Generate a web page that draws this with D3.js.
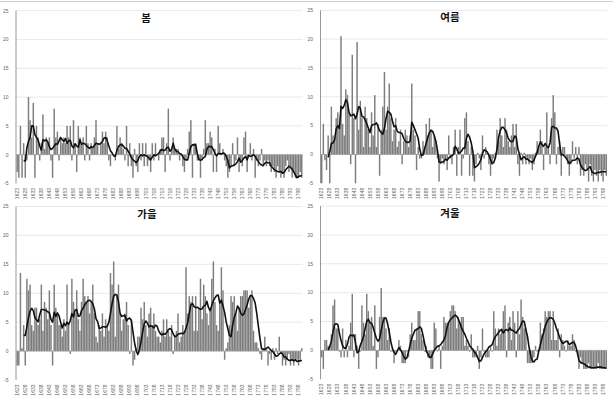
<!DOCTYPE html>
<html lang="ko">
<head>
<meta charset="UTF-8">
<title>계절별 편차</title>
<script src="https://d3js.org/d3.v7.min.js"></script>
<style>
    body { margin: 0; background: #fff; }
    svg { display: block; }
    .tick-label { font-family: "Liberation Sans", Arial, sans-serif; font-size: 5px; fill: #666; }
    .title { font-family: "Noto Sans CJK KR", sans-serif; font-size: 10.5px; font-weight: bold; fill: #111; }
</style>
</head>
<body>
<div id="chart"></div>
<script>
    // years on the category axis, 1623..1800
    const years = d3.range(1623, 1801);
    const yTicks = [-5, 0, 5, 10, 15, 20, 25];
    const lineStart = 1627; // first year of the smoothed line

    // 봄
    const springBars = [-3,-4,5,-4,2,-4,-1,10,6,3, 9,-4,5,3,-1,2,7,1,3,2, 3,-1,-4,8,3,4,-1,3,2,3,
        2,5,3,5,-1,6,2,-3,5,3, 2,3,-1,5,2,-1,2,1,3,6, 2,0,2,4,2,4,3,-1,-2,0, 0,-1,5,1,3,2,1,-1,5,-2,
        2,-2,-4,1,-2,-3,2,-1,2,-2, 2,-2,-1,-3,2,-1,2,0,-1,1, 3,3,-3,2,8,-1,1,3,1,1, 1,-1,0,-2,-3,-1,1,4,6,-4,
        2,2,-1,-1,-4,-1,1,6,2,2, 4,3,-3,1,-3,5,2,0,1,-1, -2,-4,-3,-2,2,-2,-1,3,-3,-1, -2,3,4,-3,0,2,-1,1,-4,-1,
        -2,-1,1,-2,-1,-2,-1,-2,-3,-2, -3,-4,-2,-3,-4,-3,-4,-2,-1,-3, -2,-4,-3,-4,-4,-4,-3,-4];
    const springLine = [-1.0,-1.1,1.2,2.3,3.0,5.0,5.0,3.5,3.0,2.5, 1.5,0.8,2.6,2.4,2.6,2.2,1.4,0.9,1.1,1.5,
        1.9,1.8,2.4,3.0,2.6,2.3,2.8,2.0,2.4,2.5, 1.5,1.2,1.9,1.5,1.3,2.6,1.8,2.0,1.9,1.6,
        1.3,1.1,1.4,1.2,1.6,2.0,1.9,1.8,2.0,2.3, 2.9,3.0,2.4,1.5,0.7,0.3,-0.2,-0.3,0.8,1.4,
        1.7,1.8,1.5,1.1,1.1,0.6,0.1,-0.5,-0.9,-1.1, -1.4,-1.0,-0.3,0.0,-0.2,0.0,-0.2,-0.3,-0.6,-0.9,
        -0.4,0.0,-0.2,0.0,0.2,0.7,0.9,0.7,0.8,1.2, 1.3,0.6,0.9,2.0,1.0,0.6,0.5,0.2,0.1,-0.3,
        -0.8,-0.9,-0.9,0.3,1.4,1.7,1.7,1.7,0.2,-0.8, -1.0,-0.8,-0.5,-0.3,1.0,1.4,1.4,1.4,0.9,0.2,
        -0.2,0.2,0.2,0.1,0.3,0.2,-0.3,-1.0,-2.3,-2.0, -1.9,-1.8,-1.6,-1.2,-0.6,-1.3,-1.0,-0.6,-0.3,-0.9,
        -0.1,-0.3,-0.2,0.0,-0.3,-0.8,-1.2,-1.6,-1.8,-1.9, -1.5,-1.3,-1.4,-1.4,-2.0,-2.3,-2.6,-2.8,-2.9,-3.0,
        -2.9,-3.2,-3.1,-2.6,-2.3,-2.0,-2.2,-2.5,-3.0,-3.5, -4.0,-3.8,-3.7,-3.6];

    // 여름
    const summerBars = [-5,5.3,-1,-2.7,3.3,-5,8.3,3.3,2.3,6.3, 7.3,5.3,20.5,5.3,3.3,11.3,10.3,7.3,-1.7,17.3,
        6.3,-5,19.5,4.3,9.3,6.3,1.3,8.3,6.3,4.3, 1.3,7.3,3.3,10.3,1.3,5.3,-3.7,4.3,8.3,14.3,
        4.3,8.3,12.3,6.3,2.3,4.3,6.3,1.3,2.3,4.3, -1.7,2.3,4.3,3.3,1.3,3.3,12.3,4.3,3.3,-2.7,
        1.3,-0.7,-0.7,2.3,1.3,5.3,3.3,6.3,4.3,1.3, 3.3,2.3,-0.7,-4.7,-1.7,-0.7,-1.7,-0.7,-2.7,3.3,
        -0.7,-1.7,1.3,4.3,-3.7,1.3,4.3,-3.7,-0.7,6.3, 7.3,2.3,-3.7,1.3,-3.7,-4.7,-1.7,0.3,-0.7,-2.7,
        3.3,-0.7,1.3,0.3,-1.7,-3.7,-1.7,-0.7,0.3,4.3, 2.3,6.3,3.3,1.3,6.3,4.3,2.3,1.3,3.3,5.3,
        1.3,5.3,-1.7,-3.7,0.3,-1.7,0.3,-1.7,-0.7,-1.7, -0.7,-2.7,-1.7,0.3,2.3,1.3,4.3,2.3,-2.7,1.3,
        7.3,1.3,-1.7,6.3,10.3,7.3,-1.7,1.3,2.3,-3.7, 1.3,1.3,-0.7,-1.7,-3.7,-1.7,2.3,-0.7,1.3,-1.7,
        1.3,-3.7,-2.7,-3.7,-1.7,-2.7,-4.7,-1.7,-3.7,-4.7, -2.7,-3.7,-4.7,-2.7,-3.7,-4.7,-2.7,-3.7];
    const summerLine = [-0.5,0.5,1.9,2.0,2.5,4.5,5.0,4.5,8.3,8.0, 8.5,9.5,9.0,7.3,6.7,6.8,7.0,6.2,7.0,8.3,
        8.0,6.6,6.5,6.0,5.3,4.6,3.8,5.0,5.2,5.2, 5.5,4.9,4.1,3.8,3.5,4.5,6.2,7.5,7.3,7.0,
        5.8,4.8,5.0,4.0,3.8,3.8,3.6,2.8,2.3,2.1, 2.1,2.3,5.6,5.0,4.3,3.6,2.8,0.9,-0.2,-0.1,
        1.0,2.0,3.0,3.8,4.2,4.0,3.3,2.3,0.7,-1.3, -1.4,-1.3,-1.2,-0.8,-1.0,-0.6,-0.4,-0.2,0.0,1.4,
        1.0,0.2,0.3,0.6,1.1,1.1,2.8,3.5,3.0,2.0, 0.5,-2.3,-2.1,-1.9,-1.5,-0.9,0.2,0.8,0.7,0.4,
        -0.1,-0.9,-1.6,-1.4,-0.6,0.9,3.0,4.1,4.7,4.7, 4.3,3.7,2.8,2.4,2.2,2.3,3.2,3.0,1.0,0.0,
        -0.9,-0.6,-0.4,-0.8,-0.8,-1.1,-1.2,-1.4,-1.0,-0.3, 0.4,1.4,2.2,1.7,1.4,1.9,1.4,1.2,2.0,4.7,
        4.9,4.6,4.6,4.0,1.8,-0.1,0.0,-0.3,-0.6,-1.1, -1.6,-1.3,-1.0,-1.0,-0.9,-0.6,-0.8,-1.8,-2.3,-2.6,
        -2.8,-2.7,-2.4,-2.1,-3.0,-3.2,-3.3,-3.2,-3.1,-3.1, -3.0,-3.0,-3.0,-3.0];

    // 가을
    const autumnBars = [-2.5,-2.5,13.5,0.5,4.5,-2.5,12.5,10.5,11.5,4.5, 3.5,7.5,7.5,4.5,5.5,11.5,3.5,8.5,7.5,5.5,
        10.5,4.5,-2.5,11.5,7.5,6.5,4.5,4.5,2.5,5.5, 3.5,11.5,4.5,-0.5,12.5,8.5,6.5,10.5,5.5,3.5,
        8.5,12.5,9.5,8.5,9.5,6.5,8.5,11.5,6.5,2.5, 1.5,4.5,3.5,6.5,2.5,5.5,4.5,3.5,13.5,11.5,
        15.5,2.5,9.5,11.5,6.5,3.5,5.5,6.5,8.5,4.5, -0.5,5.5,-2.5,-1.5,0.5,2.5,2.5,7.5,5.5,8.5,
        4.5,2.5,6.5,7.5,4.5,6.5,3.5,2.5,2.5,1.5, 3.5,5.5,2.5,5.5,3.5,2.5,4.5,-0.5,2.5,3.5,
        6.5,1.5,2.5,4.5,3.5,14.5,6.5,9.5,8.5,9.5, 3.5,9.5,3.5,7.5,12.5,5.5,11.5,9.5,6.5,4.5,
        7.5,12.5,15.5,8.5,4.5,3.5,8.5,14.5,10.5,-1.5, 0.5,1.5,4.5,9.5,8.5,9.5,6.5,3.5,7.5,9.5,
        9.5,10.5,10.5,10.5,7.5,9.5,10.5,3.5,1.5,1.5, 0.5,-0.5,-1.5,0.5,2.5,0.5,-2.5,-0.5,-1.5,0.5,
        -1.5,0.5,-0.5,2.5,-0.5,-2.5,-1.5,-2.5,-1.5,-0.5, -2.5,-1.5,-2.5,-1.5,-1.5,-2.5,-1.5,0.5];
    const autumnLine = [2.7,2.7,4.2,5.8,6.9,7.4,7.0,5.8,5.4,5.1, 6.3,7.2,7.2,7.1,7.0,6.8,6.6,5.5,5.0,6.7,
        6.0,6.6,6.1,5.0,4.0,4.8,4.4,5.0,4.6,5.3, 6.5,5.9,7.1,7.2,6.0,6.1,7.0,7.4,8.0,8.4,
        8.7,8.8,8.6,8.2,7.3,5.6,5.1,3.9,4.0,4.2, 4.2,4.1,4.3,5.0,6.5,8.2,9.5,9.8,9.7,8.5,
        6.5,6.0,6.1,6.2,5.2,5.6,5.7,5.3,3.3,1.4, 0.1,-0.6,0.2,1.6,3.3,4.7,5.2,4.8,4.2,4.4,
        4.3,4.0,4.5,4.3,3.5,3.0,2.8,3.0,2.9,3.2, 3.7,3.9,3.7,3.0,2.5,2.6,2.9,3.0,3.1,3.0,
        3.2,4.0,4.9,6.5,8.0,8.2,7.7,7.5,7.6,7.4, 7.2,7.3,7.8,7.9,8.6,7.5,7.0,7.9,8.7,9.2,
        9.6,9.7,8.3,8.8,7.8,6.7,5.0,3.9,2.7,2.5, 4.5,5.8,6.6,7.8,7.4,6.6,6.2,6.4,7.2,8.0,
        9.0,9.6,9.6,9.1,8.3,6.5,4.3,2.2,0.4,0.3, 0.3,0.5,0.7,0.4,0.1,-0.1,-0.5,-0.9,-0.8,-0.5,
        -0.3,-0.5,-1.0,-1.0,-1.4,-1.6,-1.6,-1.5,-1.7,-1.5, -1.8,-1.7,-1.7,-1.6];

    // 겨울
    const winterBars = [-1.2,-3.2,1.8,1.8,0.8,0.8,2.8,7.8,8.8,3.8, 3.8,-0.2,-1.2,3.8,-1.2,1.8,-1.2,0.8,4.8,9.8,
        -1.2,2.8,0.8,-3.2,-0.2,7.8,4.8,2.8,9.8,6.8, 4.8,5.8,0.8,7.8,-3.2,-1.2,5.8,10.8,5.8,5.8,
        3.8,1.8,3.8,-0.2,-0.2,-2.2,-0.2,-0.2,1.8,0.8, -2.2,-2.2,-2.2,-0.2,-1.2,2.8,4.8,1.8,1.8,3.8,
        6.8,6.8,2.8,1.8,-0.2,0.8,-1.2,-1.2,-3.2,-3.2, 4.8,3.8,-0.2,0.8,-3.2,0.8,5.8,4.8,4.8,4.8,
        6.8,7.8,7.8,6.8,3.8,5.8,4.8,5.8,5.8,0.8, 1.8,0.8,-0.2,2.8,-1.2,-1.2,-1.2,0.8,-3.2,-1.2,
        3.8,-0.2,-1.2,-1.2,-1.2,0.8,-0.2,6.8,3.8,0.8, 3.8,2.8,3.8,6.8,7.8,-1.2,4.8,5.8,1.8,6.8,
        4.8,-1.2,6.8,2.8,8.8,5.8,3.8,3.8,-2.2,-2.2, -2.2,-2.2,-1.2,0.8,-0.2,-0.2,4.8,2.8,3.8,6.8,
        5.8,6.8,6.8,1.8,6.8,1.8,1.8,3.8,-1.2,2.8, 1.8,0.8,-0.2,1.8,0.8,0.8,2.8,1.8,-0.2,-0.2,
        -3.2,-1.2,-2.2,-3.2,-3.2,-3.2,-2.2,-3.2,-3.2,-3.2, -3.2,-3.2,-2.2,-3.2,-3.2,-3.2,-3.2,-3.2];
    const winterLine = [0.1,0.7,1.6,3.2,4.5,4.6,4.5,3.0,1.7,0.8, 0.4,0.4,1.1,2.3,2.7,2.5,2.7,1.3,-0.4,-0.2,
        0.9,1.6,2.4,3.8,5.0,5.4,4.8,4.7,4.0,3.0, 2.1,1.6,2.0,3.5,4.8,5.6,5.6,4.6,3.2,1.5,
        0.3,-0.3,-0.7,-0.1,0.5,0.1,-0.4,-1.0,-1.5,-1.3, -0.2,1.0,2.1,2.8,3.5,3.6,3.8,4.1,3.8,2.6,
        1.2,-0.1,-0.6,-1.2,-1.2,-0.6,0.0,0.4,0.7,0.8, 1.0,1.4,1.8,2.6,4.0,4.9,5.3,5.6,5.9,6.1,
        5.9,5.4,4.7,3.9,3.3,2.8,2.1,1.5,0.8,0.5, 0.2,-0.3,-0.6,-1.2,-1.9,-1.8,-1.2,-0.6,-0.2,0.1,
        0.6,0.8,1.0,1.8,2.4,2.7,3.1,3.5,3.6,3.0, 3.5,3.6,3.4,3.9,3.5,3.5,3.2,3.0,3.5,3.8,
        4.5,5.1,5.0,3.6,2.4,0.5,-0.9,-1.8,-2.0,-1.6, -1.5,-0.1,1.0,2.1,3.0,4.2,4.9,5.4,5.7,5.6,
        5.4,4.7,3.8,3.1,2.2,1.6,1.2,1.4,1.6,1.5, 1.0,1.2,1.4,1.4,0.7,-0.4,-1.7,-2.1,-2.2,-2.3,
        -2.5,-2.7,-2.9,-2.9,-3.0,-3.0,-3.0,-2.9,-2.9,-2.9, -2.9,-3.0,-3.0,-3.1];

    // panel placement on the page
    const panels = [
        { title: "봄",   bars: springBars, line: springLine, x0: 16,    x1: 302.5, yTop: 10.7,  yBot: 183.5, tx: 146 },
        { title: "여름", bars: summerBars, line: summerLine, x0: 320.5, x1: 607,   yTop: 10.3,  yBot: 183.3, tx: 450 },
        { title: "가을", bars: autumnBars, line: autumnLine, x0: 16,    x1: 302.5, yTop: 206.5, yBot: 380,   tx: 147 },
        { title: "겨울", bars: winterBars, line: winterLine, x0: 320.5, x1: 607,   yTop: 206,   yBot: 379.3, tx: 450 }
    ];

    const W = 613, H = 401;
    const svg = d3.select("#chart").append("svg").attr("width", W).attr("height", H);

    // thin frame line along the top
    svg.append("line").attr("x1", 0).attr("x2", W).attr("y1", 1.5).attr("y2", 1.5)
        .attr("stroke", "#cfcfcf").attr("stroke-width", 1);

    panels.forEach(p => {
        const g = svg.append("g");
        const x = d3.scaleBand().domain(years).range([p.x0 + 0.5, p.x1]).paddingInner(0.1);
        const y = d3.scaleLinear().domain([-5, 25]).range([p.yBot, p.yTop]);

        // gridlines
        g.selectAll(".grid").data(yTicks.filter(t => t > 0)).enter().append("line")
            .attr("x1", p.x0).attr("x2", p.x1)
            .attr("y1", d => y(d)).attr("y2", d => y(d))
            .attr("stroke", "#e3e3e3").attr("stroke-width", 0.8);

        // y tick labels
        g.selectAll(".ylab").data(yTicks).enter().append("text")
            .attr("class", "tick-label")
            .attr("x", p.x0 - 7.5).attr("y", d => y(d) + 1.8)
            .attr("text-anchor", "end")
            .text(d => d);

        // bars
        g.selectAll(".bar").data(years.map((yr, i) => ({ yr, v: p.bars[i] }))).enter().append("rect")
            .attr("x", d => x(d.yr))
            .attr("width", x.bandwidth())
            .attr("y", d => y(Math.max(0, d.v)))
            .attr("height", d => Math.abs(y(d.v) - y(0)))
            .attr("fill", "#7d7d7d");

        // zero line and vertical axis
        g.append("line").attr("x1", p.x0).attr("x2", p.x1).attr("y1", y(0)).attr("y2", y(0))
            .attr("stroke", "#9a9a9a").attr("stroke-width", 0.8);
        g.append("line").attr("x1", p.x0).attr("x2", p.x0).attr("y1", y(25)).attr("y2", y(-5))
            .attr("stroke", "#8c8c8c").attr("stroke-width", 0.9);

        // smoothed line
        const linePts = p.line.map((v, i) => ({ yr: lineStart + i, v }));
        g.append("path").datum(linePts)
            .attr("fill", "none").attr("stroke", "#111").attr("stroke-width", 1.6)
            .attr("stroke-linejoin", "round")
            .attr("d", d3.line().x(d => x(d.yr) + x.bandwidth() / 2).y(d => y(d.v)));

        // x tick labels, every 5th year, rotated
        g.selectAll(".xlab").data(years.filter(yr => (yr - 1623) % 5 === 0)).enter().append("text")
            .attr("class", "tick-label")
            .attr("transform", d => `translate(${x(d) + x.bandwidth() / 2 + 1.7},${p.yBot + 4.5}) rotate(-90)`)
            .attr("text-anchor", "end")
            .text(d => d);

        // panel title
        g.append("text").attr("class", "title")
            .attr("x", p.tx).attr("y", p.yTop + 11)
            .attr("text-anchor", "middle")
            .text(p.title);
    });
</script>
</body>
</html>
